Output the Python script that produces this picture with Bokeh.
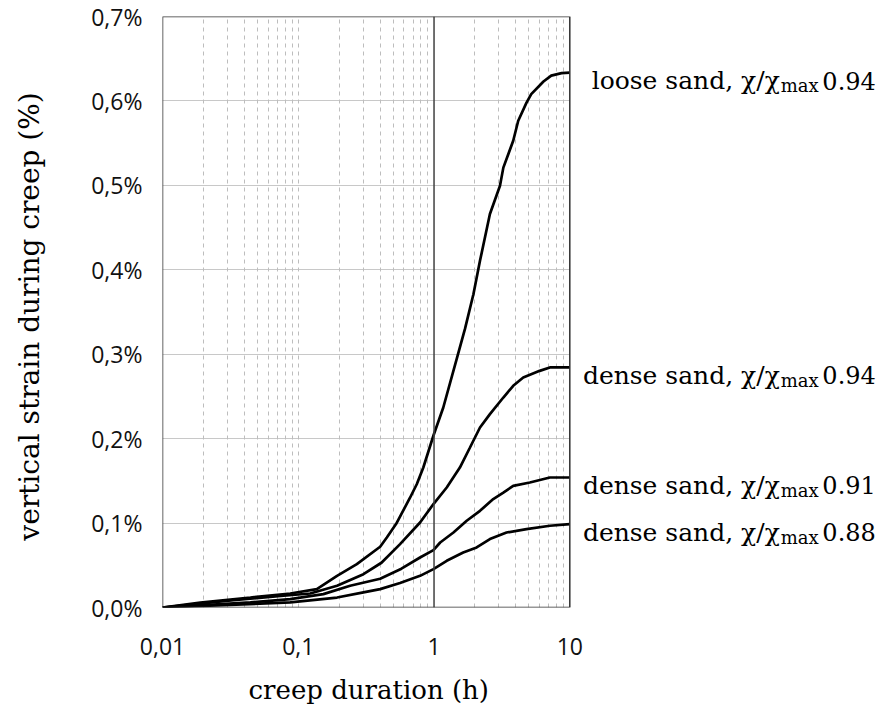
from bokeh.plotting import figure
from bokeh.models import FixedTicker, Grid, Span, BoxAnnotation, CustomJSTickFormatter, Title
from bokeh.core.properties import value
from bokeh.embed import file_html
from bokeh.resources import INLINE

# ---- data (creep duration in h, vertical strain in %) ----
loose_t = [0.01, 0.019, 0.0444, 0.0873, 0.137, 0.193, 0.27, 0.401, 0.449, 0.525, 0.667, 0.746,
           0.834, 0.989, 1.17, 1.49, 1.69, 1.95, 2.18, 2.58, 3.06, 3.24, 3.83, 4.17, 4.8, 5.2,
           6.4, 7.3, 8.7, 10.0]
loose_e = [0.0, 0.0059, 0.0118, 0.0166, 0.0218, 0.0375, 0.0514, 0.072, 0.0829, 0.0988, 0.1303, 0.146,
           0.1658, 0.2034, 0.2369, 0.298, 0.330, 0.371, 0.4106, 0.466, 0.4995, 0.521, 0.5528, 0.5765,
           0.598, 0.608, 0.623, 0.630, 0.633, 0.6336]

d94_t = [0.01, 0.0334, 0.078, 0.1225, 0.193, 0.302, 0.41, 0.562, 0.789, 0.99, 1.24, 1.55, 1.84,
         2.18, 2.58, 3.24, 3.83, 4.54, 6.0, 7.13, 10.0]
d94_e = [0.0, 0.0088, 0.0139, 0.0166, 0.0257, 0.0395, 0.053, 0.0751, 0.1007, 0.1225, 0.1421, 0.1658,
         0.1895, 0.2132, 0.229, 0.2487, 0.2626, 0.2724, 0.2803, 0.2843, 0.2843]

d91_t = [0.01, 0.0444, 0.0873, 0.153, 0.241, 0.401, 0.575, 0.789, 0.99, 1.11, 1.39, 1.74, 2.18,
         2.73, 3.24, 3.83, 5.08, 7.13, 10.0]
d91_e = [0.0, 0.006, 0.010, 0.0158, 0.0257, 0.034, 0.046, 0.0592, 0.068, 0.077, 0.0888, 0.1027,
         0.1145, 0.1284, 0.1362, 0.1441, 0.148, 0.154, 0.154]

d88_t = [0.01, 0.0873, 0.193, 0.302, 0.401, 0.562, 0.789, 0.99, 1.24, 1.64, 2.06, 2.58, 3.42,
         4.8, 7.13, 10.0]
d88_e = [0.0, 0.006, 0.0118, 0.018, 0.0218, 0.029, 0.0375, 0.0455, 0.0553, 0.0651, 0.0711, 0.081,
         0.0888, 0.0928, 0.0968, 0.0988]

label_prefix = ["loose sand, χ/χ", "dense sand, χ/χ", "dense sand, χ/χ", "dense sand, χ/χ"]
label_sub = ["max", "max", "max", "max"]
label_value = ["0.94", "0.94", "0.91", "0.88"]

x_title = "creep duration (h)"
y_title = "vertical  strain during creep (%)"

x_ticks = [0.01, 0.1, 1, 10]
y_ticks = [0.0, 0.1, 0.2, 0.3, 0.4, 0.5, 0.6, 0.7]
x_min, x_max = 0.01, 10
y_min, y_max = 0.0, 0.7
minor_x = [k * 10.0 ** e for e in (-2, -1, 0) for k in range(2, 10)] + [0.1]

series = [(loose_t, loose_e), (d94_t, d94_e), (d91_t, d91_e), (d88_t, d88_e)]
end_t = [s[0][-1] for s in series]
end_e = [s[1][-1] for s in series]

# ---- layout: frame extends to the right edge so the end labels are not clipped ----
W, H = 883, 717
LEFT, TOP, BOTTOM = 162, 16, 110
axis_px = 407.3                       # pixel width of the 0.01..10 axis box
frame_w = W - LEFT
x_end = 10 ** (-2 + 3 * frame_w / axis_px)

p = figure(width=W, height=H, x_axis_type="log", x_range=(x_min, x_end), y_range=(y_min, y_max),
           output_backend="svg", toolbar_location=None,
           min_border_left=LEFT, min_border_right=0, min_border_top=TOP, min_border_bottom=BOTTOM)
p.background_fill_color = "white"
p.border_fill_color = "white"
p.outline_line_color = None

serif = "DejaVu Serif"
sans = "Open Sans"

p.xaxis.ticker = FixedTicker(ticks=x_ticks, minor_ticks=[])
p.yaxis.ticker = FixedTicker(ticks=y_ticks, minor_ticks=[])
p.xaxis.formatter = CustomJSTickFormatter(code="return String(tick).replace('.', ',');")
p.yaxis.formatter = CustomJSTickFormatter(code="return tick.toFixed(1).replace('.', ',') + '%';")

for ax in (p.xaxis, p.yaxis):
    ax.axis_line_color = None
    ax.major_tick_line_color = None
    ax.minor_tick_line_color = None
    ax.major_label_text_font = sans
    ax.major_label_text_font_size = "23px"
    ax.major_label_text_color = "#111111"
    ax.axis_label_text_font = serif
    ax.axis_label_text_font_style = "normal"
    ax.axis_label_text_color = "black"

# x title: centred under the 0.01..10 box (frame is wider), so placed as a left-aligned Title
p.xaxis.axis_label = " "
p.xaxis.axis_label_text_font_size = "1px"
p.xaxis.axis_label_standoff = 6
p.xaxis.major_label_standoff = 24
p.add_layout(Title(text=x_title, align="left", offset=86, text_font=serif,
                   text_font_size="26px", text_font_style="normal", text_color="black"), "below")

p.yaxis.axis_label = y_title
p.yaxis.axis_label_text_font_size = "28px"
p.yaxis.major_label_standoff = 14
p.yaxis.axis_label_standoff = 42

p.xgrid.visible = False
p.ygrid.grid_line_color = "#c8c8c8"
p.ygrid.grid_line_width = 1
p.ygrid.cross_bounds = (x_min, x_max)

p.add_layout(Grid(dimension=0, ticker=FixedTicker(ticks=minor_x), grid_line_color="#bdbdbd",
                  grid_line_dash="4 4", grid_line_width=1))
p.add_layout(Span(location=1, dimension="height", line_color="#404040", line_width=1.5))
p.add_layout(BoxAnnotation(left=x_min, right=x_max, bottom=y_min, top=y_max,
                           fill_alpha=0, line_color="#303030", line_width=1.5, line_alpha=1))

for t, e in series:
    p.line(t, e, line_color="black", line_width=2.7)

p.text(x=end_t, y=end_e, text=label_prefix, x_offset=210, y_offset=8,
       text_align="right", text_baseline="alphabetic", text_font=value(serif),
       text_font_size="25px", text_color="black")
p.text(x=end_t, y=end_e, text=label_sub, x_offset=211, y_offset=13,
       text_align="left", text_baseline="alphabetic", text_font=value(serif),
       text_font_size="18px", text_color="black")
p.text(x=end_t, y=end_e, text=label_value, x_offset=306, y_offset=8,
       text_align="right", text_baseline="alphabetic", text_font=value(serif),
       text_font_size="24px", text_color="black")

open("out.html", "w").write(file_html(p, INLINE))
